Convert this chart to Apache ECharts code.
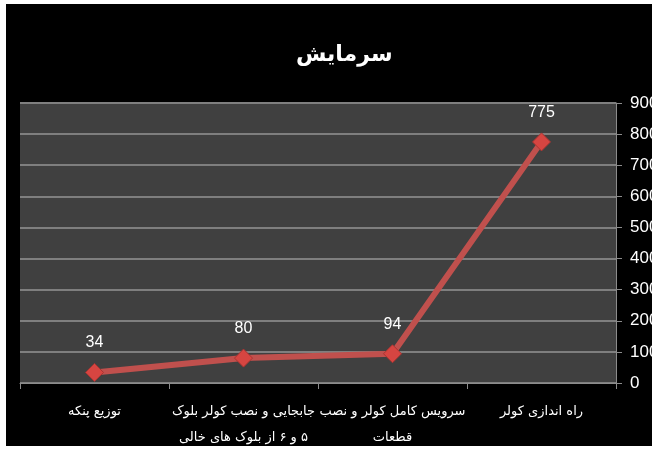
<!DOCTYPE html>
<html>
<head>
<meta charset="utf-8">
<script src="https://cdn.jsdelivr.net/npm/echarts@6/dist/echarts.min.js"></script>
<style>
  html, body { margin: 0; padding: 0; background: #fff; }
  #chart { position: absolute; left: 6px; top: 4px; width: 646px; height: 442px; background: #000; }
</style>
</head>
<body>
<div id="chart"></div>
<script>
// data
var categories = [
    'توزیع پنکه',
    'جابجایی و نصب کولر بلوک\n۵ و ۶ از بلوک های خالی',
    'سرویس کامل کولر و نصب\nقطعات',
    'راه اندازی کولر'
];
var values = [34, 80, 94, 775];
var yTicks = { min: 0, max: 900, step: 100 };

// wrap each line in right-to-left embedding so digits stay in place
function rtl(s) {
    return s.split('\n').map(function (l) { return '\u202B' + l + '\u202C'; }).join('\n');
}

var chart = echarts.init(document.getElementById('chart'));

var option = {
    backgroundColor: '#000',
    animation: false,
    title: {
        text: 'سرمایش',
        left: 285,
        top: 35,
        textStyle: { color: '#fff', fontSize: 22, fontWeight: 'bold', fontFamily: 'DejaVu Sans' }
    },
    grid: {
        left: 14, right: 36, top: 99, bottom: 63,
        outerBoundsMode: 'none', containLabel: false,
        show: true, backgroundColor: '#404040', borderWidth: 0
    },
    xAxis: {
        type: 'category',
        data: categories.map(rtl),
        boundaryGap: true,
        axisLine: { lineStyle: { color: '#8c8c8c', width: 1 } },
        axisTick: { show: true, length: 6, lineStyle: { color: '#8c8c8c' } },
        axisLabel: {
            color: '#fff', fontSize: 13, lineHeight: 26, margin: 16,
            fontFamily: 'DejaVu Sans', interval: 0
        }
    },
    yAxis: {
        type: 'value',
        position: 'right',
        min: yTicks.min,
        max: yTicks.max,
        interval: yTicks.step,
        axisLine: { show: true, lineStyle: { color: '#8c8c8c' } },
        axisTick: { show: true, length: 6, lineStyle: { color: '#8c8c8c' } },
        axisLabel: { color: '#fff', fontSize: 17, margin: 14, fontFamily: 'Liberation Sans Narrow, Liberation Sans' },
        splitLine: { lineStyle: { color: '#7f7f7f', width: 2 } }
    },
    series: [{
        type: 'line',
        data: values,
        symbol: 'diamond',
        symbolSize: 18,
        itemStyle: { color: '#d64541', borderColor: '#a83431', borderWidth: 1 },
        lineStyle: { color: '#c0504d', width: 6 },
        label: {
            show: true, position: 'top', distance: 12,
            color: '#fff', fontSize: 16, fontFamily: 'Liberation Sans'
        }
    }]
};

chart.setOption(option);
</script>
</body>
</html>
